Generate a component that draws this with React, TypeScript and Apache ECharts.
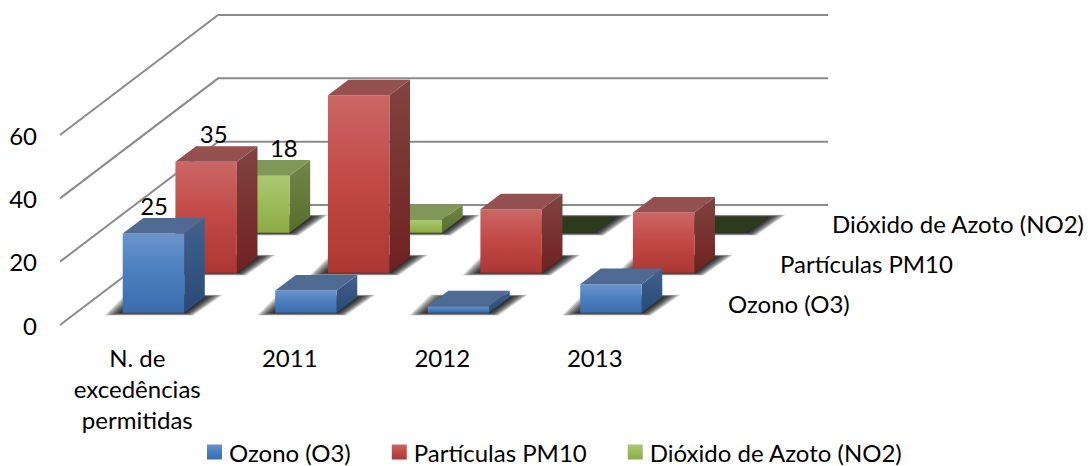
import React, { useEffect, useRef } from "react";
import * as echarts from "echarts";

const categories = ["N. de\nexcedências\npermitidas", "2011", "2012", "2013"];
const yTicks = [0, 20, 40, 60];
const ozono = [25, 7, 2, 9];
const particulas = [35, 56, 20, 19];
const dioxido = [18, 4, 0, 0];
const seriesNames = ["Ozono (O3)", "Partículas PM10", "Dióxido de Azoto (NO2)"];

const FONT = "Lato, Carlito, sans-serif";
const FS = 24;
const W = 1088;
const H = 466;
const SLOT_X = 52.7;
const SLOT_Y = 40;
const DEPTH_X = 20.6;
const DEPTH_Y = 15.6;
const FRONT_X = 16.2;
const FRONT_Y = 12.3;
const BAR_RATIO = 0.403;
const SHADOW_STEPS = 9;

const vg = (stops: [number, string][]) =>
  new echarts.graphic.LinearGradient(
    0, 0, 0, 1,
    stops.map(([offset, color]) => ({ offset, color }))
  );

const palettes = [
  {
    front: [[0, "#6b93ca"], [0.5, "#4a7ebf"], [1, "#3a6cae"]] as [number, string][],
    side: [[0, "#43618c"], [1, "#274a78"]] as [number, string][],
    top: "#4f6b94",
    flat: "#4f6b94",
    labelDx: 0.6,
  },
  {
    front: [[0, "#cb6765"], [0.5, "#c14845"], [1, "#ab3733"]] as [number, string][],
    side: [[0, "#814341"], [1, "#6f2120"]] as [number, string][],
    top: "#945150",
    flat: "#945150",
    labelDx: 7.5,
  },
  {
    front: [[0, "#aac86f"], [0.5, "#9bbb59"], [1, "#8cab44"]] as [number, string][],
    side: [[0, "#71884a"], [1, "#566d2b"]] as [number, string][],
    top: "#7f9857",
    flat: "#2c3b1d",
    labelDx: 25,
  },
];

function barRenderer(depthIndex: number) {
  const pal = palettes[depthIndex];
  return (params: any, api: any) => {
    const cat = api.value(0);
    const val = api.value(1);
    const base = api.coord([cat, 0]);
    const head = api.coord([cat, val]);
    const band = api.size([1, 0])[0];
    const w = band * BAR_RATIO;
    const ox = FRONT_X + depthIndex * SLOT_X;
    const oy = FRONT_Y + depthIndex * SLOT_Y;
    const l = base[0] + ox - w / 2;
    const r = l + w;
    const b = base[1] - oy;
    const t = head[1] - oy;
    const children: any[] = [];
    for (let k = SHADOW_STEPS; k >= 1; k--) {
      const ex = k * 2;
      const down = k * 0.3;
      const up = k * 0.25;
      children.push({
        type: "polygon",
        shape: {
          points: [
            [l - ex, b + down],
            [r + ex * 0.5, b + down],
            [r + DEPTH_X + ex, b - DEPTH_Y - up],
            [l + DEPTH_X - ex, b - DEPTH_Y - up],
          ],
        },
        style: { fill: "rgba(0,0,0,0.17)" },
      });
    }
    if (val > 0) {
      children.push(
        {
          type: "polygon",
          shape: { points: [[r, t], [r + DEPTH_X, t - DEPTH_Y], [r + DEPTH_X, b - DEPTH_Y], [r, b]] },
          style: { fill: vg(pal.side) },
        },
        { type: "rect", shape: { x: l, y: t, width: w, height: b - t }, style: { fill: vg(pal.front) } }
      );
    }
    children.push({
      type: "polygon",
      shape: { points: [[l, t], [r, t], [r + DEPTH_X, t - DEPTH_Y], [l + DEPTH_X, t - DEPTH_Y]] },
      style: { fill: val > 0 ? pal.top : pal.flat },
    });
    if (cat === 0) {
      children.push({
        type: "text",
        style: {
          text: String(val),
          x: l + w / 2 + pal.labelDx,
          y: t - 28,
          align: "center",
          verticalAlign: "middle",
          fontFamily: FONT,
          fontSize: FS,
          fill: "#000",
        },
      });
    }
    return { type: "group", children };
  };
}

function wallRenderer(params: any, api: any) {
  const val = api.value(1);
  const p = api.coord([0, val]);
  const band = api.size([1, 0])[0];
  const x0 = p[0] - band / 2 - 1;
  const dx = SLOT_X * 3;
  const dy = SLOT_Y * 3;
  return {
    type: "polyline",
    shape: {
      points: [
        [x0, p[1]],
        [x0 + dx, p[1] - dy],
        [x0 + dx + band * categories.length, p[1] - dy],
      ],
    },
    style: { fill: "none", stroke: "#8b8b8b", lineWidth: 2 },
  };
}

export default function App() {
  const ref = useRef<HTMLDivElement>(null);
  useEffect(() => {
    document.body.style.margin = "0";
    const chart = echarts.init(ref.current!, undefined, { renderer: "svg" });
    const values = [ozono, particulas, dioxido];
    const barSeries = [2, 1, 0].map((i) => ({
      type: "custom",
      name: seriesNames[i],
      renderItem: barRenderer(i),
      data: values[i].map((v, c) => [c, v]),
      encode: { x: 0, y: 1 },
      clip: false,
      silent: true,
      itemStyle: { color: palettes[i].front[1][1] },
    }));
    chart.setOption({
      animation: false,
      textStyle: { fontFamily: FONT },
      grid: { left: 61, width: 610, top: 135, height: 190 },
      xAxis: {
        type: "category",
        data: categories,
        axisLine: { show: false },
        axisTick: { show: false },
        splitLine: { show: false },
        axisLabel: {
          interval: 0,
          margin: 17,
          fontFamily: FONT,
          fontSize: FS,
          color: "#000",
          lineHeight: 31,
          verticalAlign: "top",
        },
      },
      yAxis: {
        type: "value",
        min: 0,
        max: 60,
        interval: 20,
        axisLine: { show: false },
        axisTick: { show: false },
        splitLine: { show: false },
        axisLabel: { margin: 24, fontFamily: FONT, fontSize: FS, color: "#000", padding: [0, 0, 3, 0] },
      },
      legend: {
        left: 202,
        top: 435,
        itemWidth: 15,
        itemHeight: 15,
        itemGap: 41,
        textStyle: { fontFamily: FONT, fontSize: FS, color: "#000", padding: [0, 0, 0, 2] },
        data: seriesNames.map((name, i) => ({
          name,
          icon: "rect",
          itemStyle: { color: vg(palettes[i].front) },
        })),
        selectedMode: false,
      },
      graphic: seriesNames.map((name, i) => ({
        type: "text",
        left: 728 + i * SLOT_X - i * 0.7,
        top: 305 - i * SLOT_Y - 14,
        style: { text: name, fontFamily: FONT, fontSize: FS, fill: "#000" },
        silent: true,
      })),
      series: [
        {
          type: "custom",
          name: "wall",
          renderItem: wallRenderer,
          data: yTicks.map((v) => [0, v]),
          encode: { x: 0, y: 1 },
          clip: false,
          silent: true,
        },
        ...barSeries,
      ],
    });
    return () => chart.dispose();
  }, []);
  return <div ref={ref} style={{ width: W, height: H }} />;
}
